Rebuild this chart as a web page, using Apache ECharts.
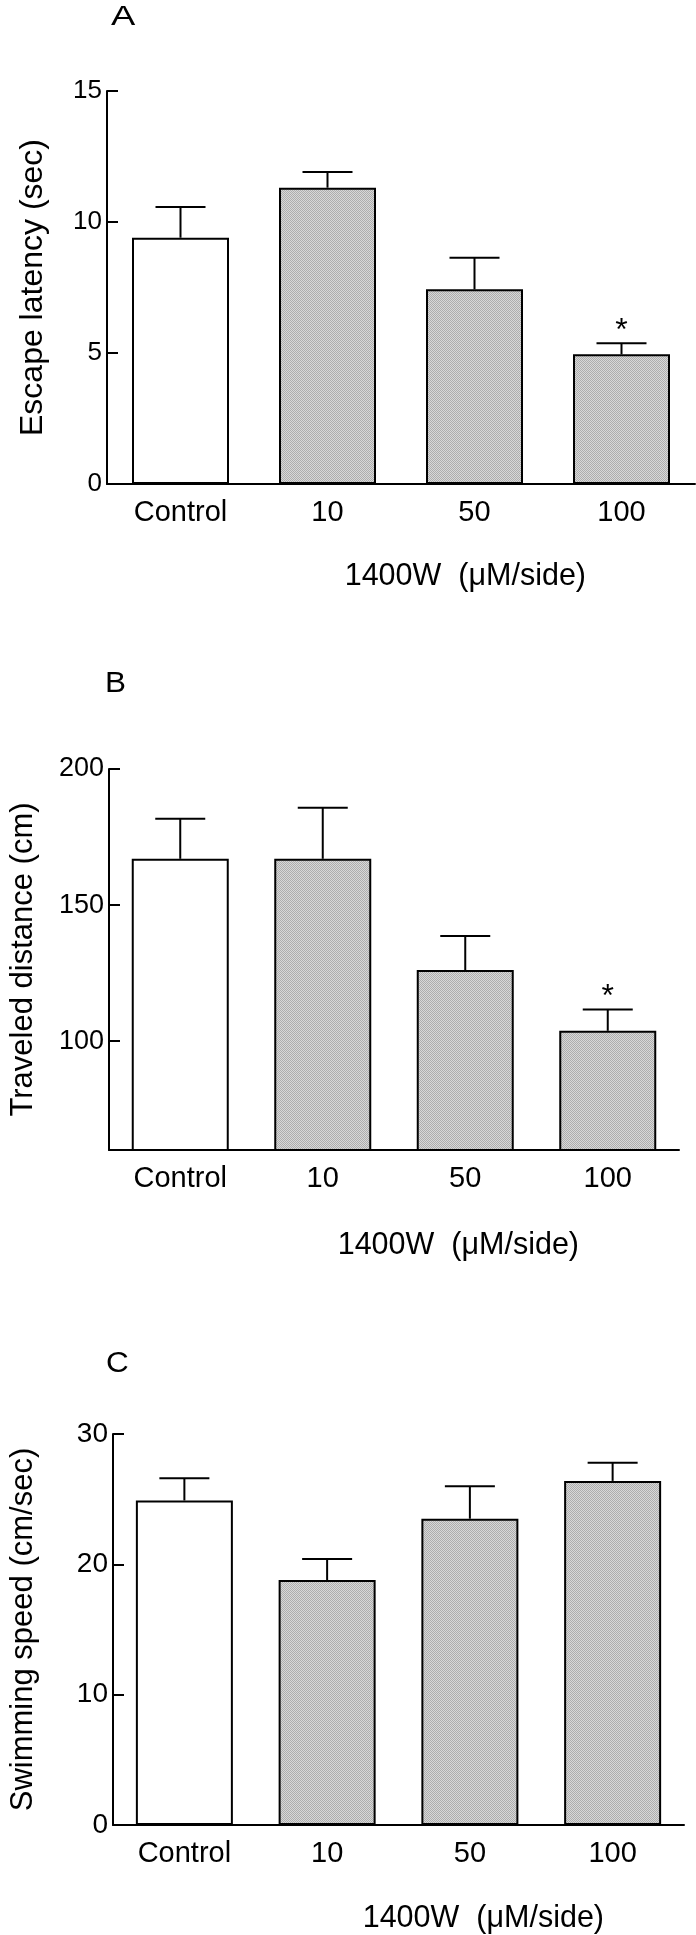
<!DOCTYPE html>
<html>
<head>
<meta charset="utf-8">
<script src="https://cdn.jsdelivr.net/npm/echarts@6/dist/echarts.min.js"></script>
<style>
html,body{margin:0;padding:0;background:#fff;}
#chart{width:696px;height:1935px;}
</style>
</head>
<body>
<div id="chart"></div>
<script>
// ---- data ----
const categories = ['Control', '10', '50', '100'];
const latencyMean = [9.40, 11.31, 7.43, 4.95];
const latencyErr  = [1.17, 0.60, 1.21, 0.42];
const latencySig  = [false, false, false, true];
const distanceMean = [167.0, 167.0, 126.1, 103.8];
const distanceErr  = [14.7, 18.8, 12.5, 7.8];
const distanceSig  = [false, false, false, true];
const speedMean = [24.9, 18.8, 23.5, 26.4];
const speedErr  = [1.7, 1.6, 2.5, 1.4];
const speedSig  = [false, false, false, false];
const latencyTicks = [0, 5, 10, 15];
const distanceTicks = [100, 150, 200];
const speedTicks = [0, 10, 20, 30];
const panelLetters = ['A', 'B', 'C'];
const yTitles = ['Escape latency (sec)', 'Traveled distance (cm)', 'Swimming speed (cm/sec)'];
const xTitle = '1400W  (\u03bcM/side)';

// ---- styles ----
const FONT = '"Liberation Sans", Arial, Helvetica, sans-serif';
const pc = document.createElement('canvas');
pc.width = 2; pc.height = 2;
const pctx = pc.getContext('2d');
pctx.fillStyle = '#d8d8d8'; pctx.fillRect(0, 0, 2, 2);
pctx.fillStyle = '#adadad'; pctx.fillRect(0, 0, 1, 1); pctx.fillRect(1, 1, 1, 1);
const grayFill = { image: pc, repeat: 'repeat' };

const grids = [
  { left: 107, width: 588, top: 91, height: 393 },
  { left: 105, width: 574, top: 769, height: 381 },
  { left: 105, width: 579, top: 1434, height: 391 }
];
const yRanges = [[0, 15], [60, 200], [0, 30]];
const yTickSets = [latencyTicks, distanceTicks, speedTicks];
const yTickSizes = [26, 27, 28];
const nameGaps = [58, 70, 74];
const nameSizes = [32, 31, 31];
const means = [latencyMean, distanceMean, speedMean];
const errs = [latencyErr, distanceErr, speedErr];
const sigs = [latencySig, distanceSig, speedSig];

const xAxes = [], yAxes = [], series = [];
for (let p = 0; p < 3; p++) {
  xAxes.push({
    type: 'category', gridIndex: p, data: categories,
    axisLine: { onZero: false, lineStyle: { color: '#000', width: 2 } },
    axisTick: { show: false },
    axisLabel: { color: '#000', fontSize: 29, fontFamily: FONT, margin: 14 }
  });
  yAxes.push({
    type: 'value', gridIndex: p, min: yRanges[p][0], max: yRanges[p][1],
    splitLine: { show: false },
    axisLine: { show: true, lineStyle: { color: '#000', width: 2 } },
    axisTick: { show: true, inside: true, length: 11, customValues: yTickSets[p], lineStyle: { color: '#000', width: 2 } },
    axisLabel: { color: '#000', fontSize: yTickSizes[p], fontFamily: FONT, margin: 5, customValues: yTickSets[p] },
    name: yTitles[p], nameLocation: 'middle', nameGap: nameGaps[p],
    nameTextStyle: { color: '#000', fontSize: nameSizes[p], fontFamily: FONT }
  });
  series.push({
    type: 'bar', xAxisIndex: p, yAxisIndex: p, barWidth: 97,
    data: means[p].map((v, i) => ({
      value: v,
      itemStyle: { color: i === 0 ? '#ffffff' : grayFill, borderColor: '#000', borderWidth: 2 }
    })),
    animation: false, silent: true
  });
  const sigArr = sigs[p];
  series.push({
    type: 'custom', xAxisIndex: p, yAxisIndex: p, z: 5,
    data: means[p].map((v, i) => [i, v, errs[p][i]]),
    encode: { x: 0, y: 1 },
    renderItem: function (params, api) {
      const i = api.value(0), m = api.value(1), e = api.value(2);
      const b = api.coord([i, m]);
      const t = api.coord([i, m + e]);
      const half = 25;
      const children = [
        { type: 'line', shape: { x1: b[0], y1: b[1], x2: t[0], y2: t[1] }, style: { stroke: '#000', lineWidth: 2 } },
        { type: 'line', shape: { x1: t[0] - half, y1: t[1], x2: t[0] + half, y2: t[1] }, style: { stroke: '#000', lineWidth: 2 } }
      ];
      if (sigArr[params.dataIndex]) {
        children.push({ type: 'text', x: t[0], y: t[1] - 12,
          style: { text: '*', fontSize: 32, fontFamily: FONT, fill: '#000', align: 'center', verticalAlign: 'middle' } });
      }
      return { type: 'group', children: children };
    },
    animation: false, silent: true
  });
}

const letterPos = [[111, 17], [105, 684], [106, 1364]];
const letterScale = [1.3, 1.05, 1.05];
const letterSizes = [28, 30, 30];
const xTitlePos = [[586, 577], [579, 1246], [604, 1919]];
const graphics = [];
for (let p = 0; p < 3; p++) {
  graphics.push({ type: 'text', x: letterPos[p][0], y: letterPos[p][1], scaleX: letterScale[p],
    style: { text: panelLetters[p], fontSize: letterSizes[p], fontFamily: FONT, fill: '#000', align: 'left', verticalAlign: 'middle' } });
  graphics.push({ type: 'text', x: xTitlePos[p][0], y: xTitlePos[p][1],
    style: { text: xTitle, fontSize: 30.5, fontFamily: FONT, fill: '#000', align: 'right', verticalAlign: 'middle' } });
}

const chart = echarts.init(document.getElementById('chart'), null, { renderer: 'canvas' });
chart.setOption({
  backgroundColor: '#fff',
  animation: false,
  grid: grids,
  xAxis: xAxes,
  yAxis: yAxes,
  series: series,
  graphic: graphics
});
</script>
</body>
</html>
